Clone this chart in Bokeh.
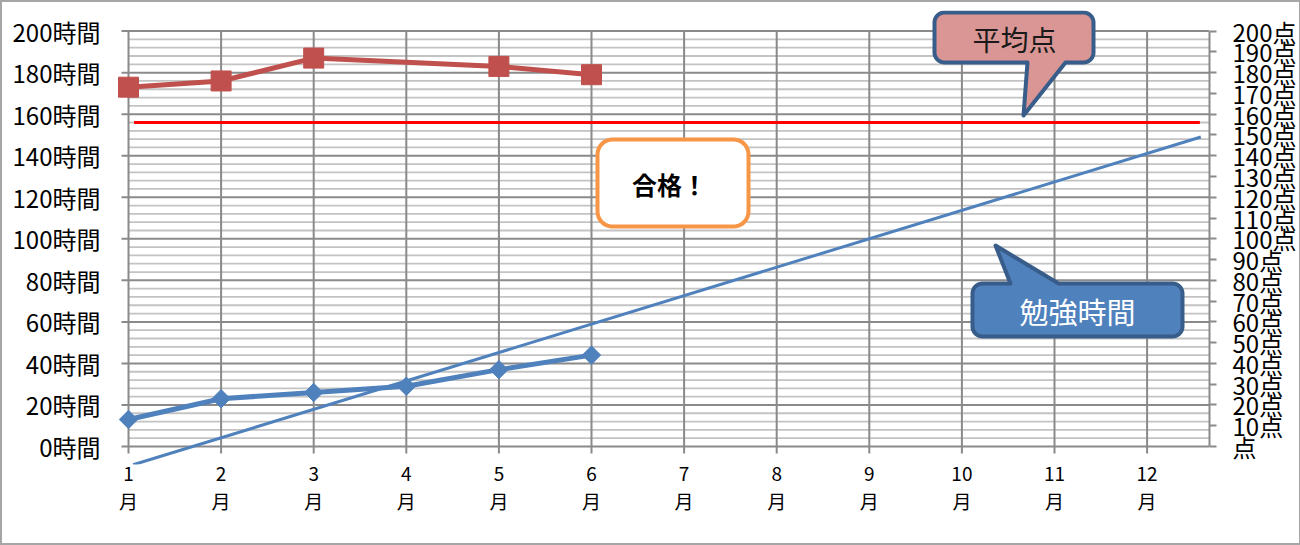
import numpy as np
from bokeh.plotting import figure
from bokeh.models import Range1d, LinearAxis, FixedTicker, Label
from bokeh.embed import file_html
from bokeh.resources import INLINE

# ---------------- data ----------------
months = [1, 2, 3, 4, 5, 6, 7, 8, 9, 10, 11, 12]
month_labels = [f"{m}\n月" for m in months]

study_months = [1, 2, 3, 4, 5, 6]
study_hours = [13, 23, 26, 29, 37, 44]

score_months = [1, 2, 3, 5, 6]
scores = [173, 176, 187, 183, 179]

avg_x = [1.06, 12.57]
avg_score = [156, 156]

trend_x = [1.05, 12.58]
trend_y = [-8.8, 149]

hour_ticks = list(range(0, 201, 20))
hour_minor = [v for v in range(0, 201, 4) if v % 20]
hour_labels = [f"{v}時間" for v in hour_ticks]

point_ticks = list(range(0, 201, 10))
point_labels = [f"{v}点" if v else "点" for v in point_ticks]

# ---------------- layout helpers ----------------
FONT = "Noto Sans CJK JP"
AXIS_L = 128                      # screen x of month 1 (left axis)
FRAME_L, FRAME_R, FRAME_T, FRAME_B = 116, 1209, 10, 464
BORDER = 2
PX_PER_MONTH = 92.6
ZERO_PX = 446
PX_PER_UNIT = 2.077
TICK_PX = 7

x_start = months[0] - (AXIS_L - FRAME_L) / PX_PER_MONTH
x_end = months[0] + (FRAME_R - AXIS_L) / PX_PER_MONTH
y_start = (ZERO_PX - FRAME_B) / PX_PER_UNIT
y_end = (ZERO_PX - FRAME_T) / PX_PER_UNIT


def px_to_data(xs, ys):
    xd = [months[0] + (x - AXIS_L) / PX_PER_MONTH for x in xs]
    yd = [(ZERO_PX - y) / PX_PER_UNIT for y in ys]
    return xd, yd


def callout(l, t, r, b, rad, ptr=None):
    pts = []

    def arc(cx, cy, a0, a1):
        for a in np.linspace(a0, a1, 10):
            pts.append((cx + rad * np.cos(a), cy + rad * np.sin(a)))

    arc(l + rad, t + rad, np.pi, 1.5 * np.pi)
    if ptr and ptr[0] == "top":
        _, a, bb, tx, ty = ptr
        pts.extend([(a, t), (tx, ty), (bb, t)])
    arc(r - rad, t + rad, 1.5 * np.pi, 2 * np.pi)
    arc(r - rad, b - rad, 0, 0.5 * np.pi)
    if ptr and ptr[0] == "bottom":
        _, a, bb, tx, ty = ptr
        pts.extend([(bb, b), (tx, ty), (a, b)])
    arc(l + rad, b - rad, 0.5 * np.pi, np.pi)
    xs, ys = zip(*pts)
    return px_to_data(xs, ys)


GRID_DARK = "#8a8a8a"
GRID_LIGHT = "#c3c3c3"

p = figure(
    frame_width=FRAME_R - FRAME_L,
    frame_height=FRAME_B - FRAME_T,
    x_range=Range1d(x_start, x_end),
    y_range=Range1d(y_start, y_end),
    output_backend="svg",
    toolbar_location=None,
    min_border_left=FRAME_L - BORDER,
    min_border_right=1297 - FRAME_R,
    min_border_top=FRAME_T - BORDER,
    min_border_bottom=543 - FRAME_B,
    background_fill_color="white",
    border_fill_color="white",
    outline_line_color=None,
)
p.styles = {"border": f"{BORDER}px solid #a6a6a6"}
p.xgrid.visible = False
p.ygrid.visible = False

# ---- left axis (hours): labels only, lines drawn as segments
ya = p.yaxis[0]
ya.ticker = FixedTicker(ticks=hour_ticks)
ya.major_label_overrides = {v: s for v, s in zip(hour_ticks, hour_labels)}
ya.axis_line_color = None
ya.major_tick_line_color = None
ya.major_tick_out = 0
ya.major_tick_in = 0
ya.minor_tick_line_color = None
ya.major_label_standoff = 16
ya.major_label_text_font = FONT
ya.major_label_text_font_size = "24px"
ya.major_label_text_color = "black"

# ---- right axis (points)
p.extra_y_ranges = {"pts": Range1d(y_start, y_end)}
ra = LinearAxis(y_range_name="pts")
ra.ticker = FixedTicker(ticks=point_ticks)
ra.major_label_overrides = {v: s for v, s in zip(point_ticks, point_labels)}
ra.bounds = (point_ticks[0], point_ticks[-1])
ra.axis_line_color = GRID_DARK
ra.axis_line_width = 2
ra.major_tick_line_color = GRID_DARK
ra.major_tick_line_width = 2
ra.major_tick_out = TICK_PX
ra.major_tick_in = 0
ra.minor_tick_line_color = None
ra.major_label_standoff = 16
ra.major_label_text_font = FONT
ra.major_label_text_font_size = "24px"
ra.major_label_text_color = "black"
p.add_layout(ra, "right")

# ---- bottom axis (months): labels only, at frame bottom
xa = p.xaxis[0]
xa.ticker = FixedTicker(ticks=months)
xa.major_label_overrides = {m: s for m, s in zip(months, month_labels)}
xa.axis_line_color = None
xa.major_tick_line_color = None
xa.major_tick_out = 0
xa.major_tick_in = 0
xa.minor_tick_line_color = None
xa.major_label_standoff = -6
xa.major_label_text_font = FONT
xa.major_label_text_font_size = "19px"
xa.major_label_text_line_height = 1.05
xa.major_label_text_color = "black"

# ---- grid lines
x_tick_left = months[0] - TICK_PX / PX_PER_MONTH
y_tick_below = -TICK_PX / PX_PER_UNIT
p.segment(x0=[months[0]] * len(hour_minor), y0=hour_minor,
          x1=[x_end] * len(hour_minor), y1=hour_minor,
          line_color=GRID_LIGHT, line_width=1.8)
p.segment(x0=[x_tick_left] * len(hour_ticks), y0=hour_ticks,
          x1=[x_end] * len(hour_ticks), y1=hour_ticks,
          line_color=GRID_DARK, line_width=2)
p.segment(x0=months, y0=[y_tick_below] * len(months), x1=months,
          y1=[hour_ticks[-1]] * len(months), line_color=GRID_DARK, line_width=2)

# ---- average line and trend line
p.line(avg_x, avg_score, line_color="#FF0000", line_width=3)
p.line(trend_x, trend_y, line_color="#4F81BD", line_width=3)

# ---- series
p.line(score_months, scores, line_color="#C0504D", line_width=5)
p.scatter(score_months, scores, marker="square", size=20,
          fill_color="#C0504D", line_color="#C0504D")
p.line(study_months, study_hours, line_color="#4F81BD", line_width=5)
p.scatter(study_months, study_hours, marker="square", angle=np.pi / 4, size=13,
          fill_color="#4F81BD", line_color="#4F81BD")

# ---- callouts
cx, cy = callout(597, 139, 748, 226, 15)
p.patch(cx, cy, fill_color="white", line_color="#F79646", line_width=4, line_join="round")

cx, cy = callout(934, 12, 1093, 62, 10, ("bottom", 1027, 1065, 1023, 115))
p.patch(cx, cy, fill_color="#D99694", line_color="#385D8A", line_width=4, line_join="round")

cx, cy = callout(972, 283, 1182, 336, 10, ("top", 1010, 1058, 995, 245))
p.patch(cx, cy, fill_color="#4F81BD", line_color="#385D8A", line_width=4, line_join="round")

for txt, (lx, ly), size, color, style in [
    ("合格！", (669, 183), "25px", "black", "bold"),
    ("平均点", (1014, 38), "28px", "#1a1a1a", "normal"),
    ("勉強時間", (1077, 310), "29px", "white", "normal"),
]:
    (dx,), (dy,) = px_to_data([lx], [ly])
    p.add_layout(Label(x=dx, y=dy, text=txt, text_align="center", text_baseline="middle",
                       text_font=FONT, text_font_size=size, text_color=color,
                       text_font_style=style))

open("out.html", "w").write(file_html(p, INLINE))
